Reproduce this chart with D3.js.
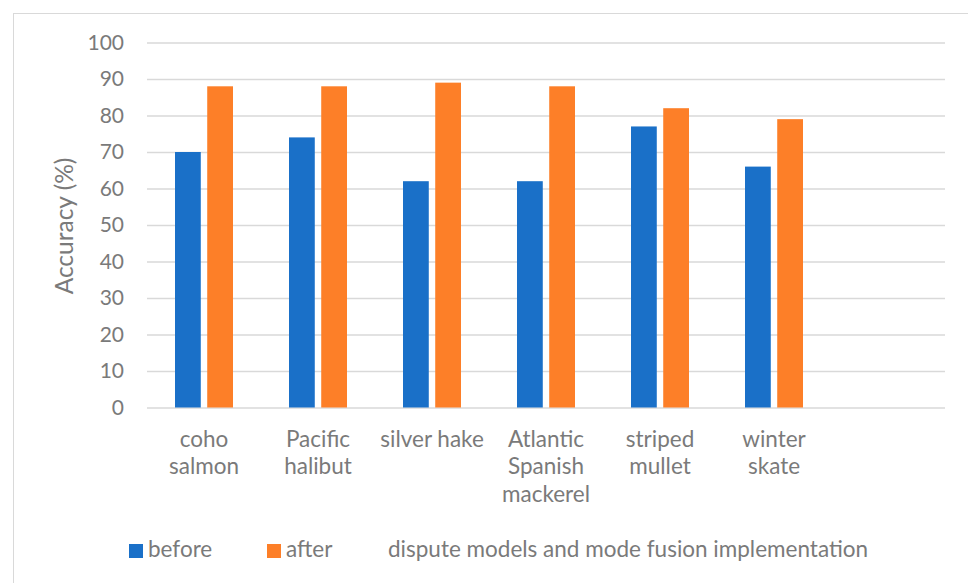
<!DOCTYPE html>
<html>
<head>
<meta charset="utf-8">
<script src="https://cdn.jsdelivr.net/npm/d3@7"></script>
<style>
  html, body { margin: 0; padding: 0; background: #ffffff; }
  svg { display: block; }
  text { font-family: Lato, "Open Sans", sans-serif; fill: #7a7a7a; }
</style>
</head>
<body>
<svg id="chart" width="968" height="583"></svg>
<script>
// Species (the last slot is an empty category), with line breaks as shown under the axis
const categories = ["coho\nsalmon", "Pacific\nhalibut", "silver hake", "Atlantic\nSpanish\nmackerel", "striped\nmullet", "winter\nskate", ""];
const seriesNames = ["before", "after"];
const beforeValues = [70, 74, 62, 62, 77, 66, null];
const afterValues  = [88, 88, 89, 88, 82, 79, null];
const legendLabels = ["before", "after", "dispute models and mode fusion implementation"];
const yTicks = [0, 10, 20, 30, 40, 50, 60, 70, 80, 90, 100];

const colors = { before: "#1a70c8", after: "#fd7f28" };

const svg = d3.select("#chart");
const W = 968, H = 583;
const plot = { left: 147, right: 945, top: 42.5, bottom: 407.5 };

// chart area frame (runs past the right and bottom edges)
svg.append("rect")
  .attr("x", 13.5).attr("y", 13.5)
  .attr("width", W + 20).attr("height", H + 20)
  .attr("fill", "#ffffff").attr("stroke", "#d9d9d9").attr("stroke-width", 1);

const x0 = d3.scaleBand().domain(d3.range(categories.length)).range([plot.left, plot.right]);
const x1 = d3.scaleBand().domain(seriesNames).range([-29, 29]).paddingInner(0.2);
const y = d3.scaleLinear().domain([0, 100]).range([plot.bottom, plot.top]);

// y axis with gridlines
const yAxis = svg.append("g")
  .attr("transform", `translate(${plot.left},0)`)
  .call(d3.axisLeft(y).tickValues(yTicks)
    .tickSizeInner(-(plot.right - plot.left)).tickSizeOuter(0).tickPadding(23));
yAxis.select(".domain").remove();
yAxis.selectAll(".tick line").attr("stroke", "#d9d9d9").attr("stroke-width", 1.5);
yAxis.selectAll(".tick text").style("font-size", "21px").attr("fill", "#7a7a7a");

// bars
const rows = categories.map((c, i) => ({ i, before: beforeValues[i], after: afterValues[i] }));
const groups = svg.append("g").selectAll("g").data(rows).join("g")
  .attr("transform", d => `translate(${x0(d.i) + x0.bandwidth() / 2},0)`);
groups.selectAll("rect")
  .data(d => seriesNames.filter(s => d[s] != null).map(s => ({ s, v: d[s] })))
  .join("rect")
  .attr("x", d => x1(d.s))
  .attr("width", x1.bandwidth())
  .attr("y", d => y(d.v))
  .attr("height", d => y(0) - y(d.v))
  .attr("fill", d => colors[d.s]);

// x axis labels (wrapped)
const xAxis = svg.append("g")
  .attr("transform", `translate(0,${plot.bottom})`)
  .call(d3.axisBottom(x0).tickSize(0).tickPadding(0).tickFormat(i => categories[i]));
xAxis.select(".domain").remove();
xAxis.selectAll(".tick text").each(function (i) {
  const t = d3.select(this);
  const lines = categories[i].split("\n");
  t.text(null).attr("y", 0).attr("dy", null).style("font-size", "22.5px").attr("fill", "#7a7a7a");
  lines.forEach((ln, k) => {
    t.append("tspan").attr("x", 0).attr("y", 39 + k * 27.7).text(ln);
  });
});

// y axis title
svg.append("text")
  .attr("transform", "translate(73,226) rotate(-90)")
  .attr("text-anchor", "middle")
  .style("font-size", "24.5px")
  .text("Accuracy (%)");

// legend
const legendX = [129, 267, 369];
const legendColors = [colors.before, colors.after, null];
const leg = svg.append("g");
legendLabels.forEach((lab, k) => {
  if (legendColors[k]) {
    leg.append("rect").attr("x", legendX[k]).attr("y", 544)
      .attr("width", 14).attr("height", 14).attr("fill", legendColors[k]);
  }
  leg.append("text").attr("x", legendX[k] + 19).attr("y", 557)
    .style("font-size", "22.5px").text(lab);
});
</script>
</body>
</html>
